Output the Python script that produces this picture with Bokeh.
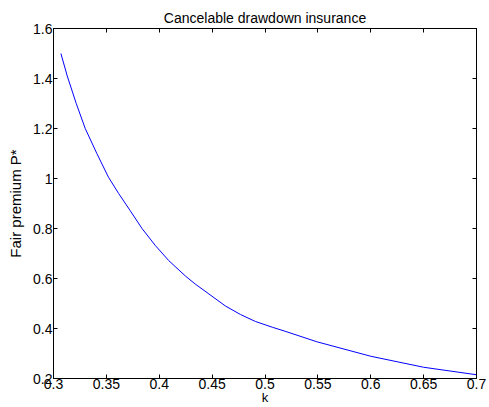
from bokeh.plotting import figure
from bokeh.models import Range1d, FixedTicker, LinearAxis, NumeralTickFormatter
from bokeh.embed import file_html
from bokeh.resources import INLINE

k_values = [0.307, 0.313, 0.3215, 0.330, 0.341, 0.352, 0.3616, 0.3726, 0.3837, 0.3963,
            0.4089, 0.4247, 0.434, 0.447, 0.4626, 0.4768, 0.491, 0.507, 0.519, 0.549,
            0.600, 0.650, 0.700]
premium = [1.50, 1.41, 1.30, 1.20, 1.10, 1.005, 0.940, 0.871, 0.80, 0.732,
           0.672, 0.610, 0.578, 0.538, 0.490, 0.456, 0.428, 0.405, 0.389, 0.347,
           0.289, 0.245, 0.215]
x_ticks = [0.3, 0.35, 0.4, 0.45, 0.5, 0.55, 0.6, 0.65, 0.7]
y_ticks = [0.2, 0.4, 0.6, 0.8, 1.0, 1.2, 1.4, 1.6]

FONT = "Liberation Sans"

p = figure(width=489, height=407, output_backend="svg", toolbar_location=None,
           x_range=Range1d(0.3, 0.7), y_range=Range1d(0.2, 1.6),
           min_border_left=53, min_border_right=13, min_border_top=28, min_border_bottom=4)

p.title.text = "Cancelable drawdown insurance"
p.title.align = "center"
p.title.text_font = FONT
p.title.text_font_size = "14px"
p.title.text_font_style = "normal"
p.title.text_color = "black"
p.title.standoff = 6

p.grid.visible = False
p.outline_line_color = "black"
p.outline_line_width = 1
p.background_fill_color = "white"
p.border_fill_color = "white"

p.line(k_values, premium, line_color="#0000ff", line_width=1)

def style_axis(ax, ticks, labels=True):
    ax.ticker = FixedTicker(ticks=ticks)
    ax.formatter = NumeralTickFormatter(format="0.[00]")
    ax.major_tick_in = 4
    ax.major_tick_out = 0
    ax.minor_tick_line_color = None
    ax.axis_line_color = "black"
    ax.major_tick_line_color = "black"
    ax.major_label_text_font = FONT
    ax.major_label_text_font_size = "14px" if labels else "1px"
    ax.major_label_text_color = "black" if labels else None
    ax.major_label_standoff = 1 if labels else 0
    ax.axis_label_text_font = FONT
    ax.axis_label_text_font_style = "normal"
    ax.axis_label_text_color = "black"

style_axis(p.xaxis[0], x_ticks)
style_axis(p.yaxis[0], y_ticks)
p.xaxis[0].major_label_standoff = 0
p.xaxis[0].axis_label = "k"
p.xaxis[0].axis_label_text_font_size = "13px"
p.xaxis[0].axis_label_standoff = -2
p.yaxis[0].axis_label = "Fair premium P*"
p.yaxis[0].axis_label_text_font_size = "15px"
p.yaxis[0].axis_label_standoff = 6

top = LinearAxis()
style_axis(top, x_ticks, labels=False)
right = LinearAxis()
style_axis(right, y_ticks, labels=False)
p.add_layout(top, "above")
p.add_layout(right, "right")

open("out.html", "w").write(file_html(p, INLINE))
